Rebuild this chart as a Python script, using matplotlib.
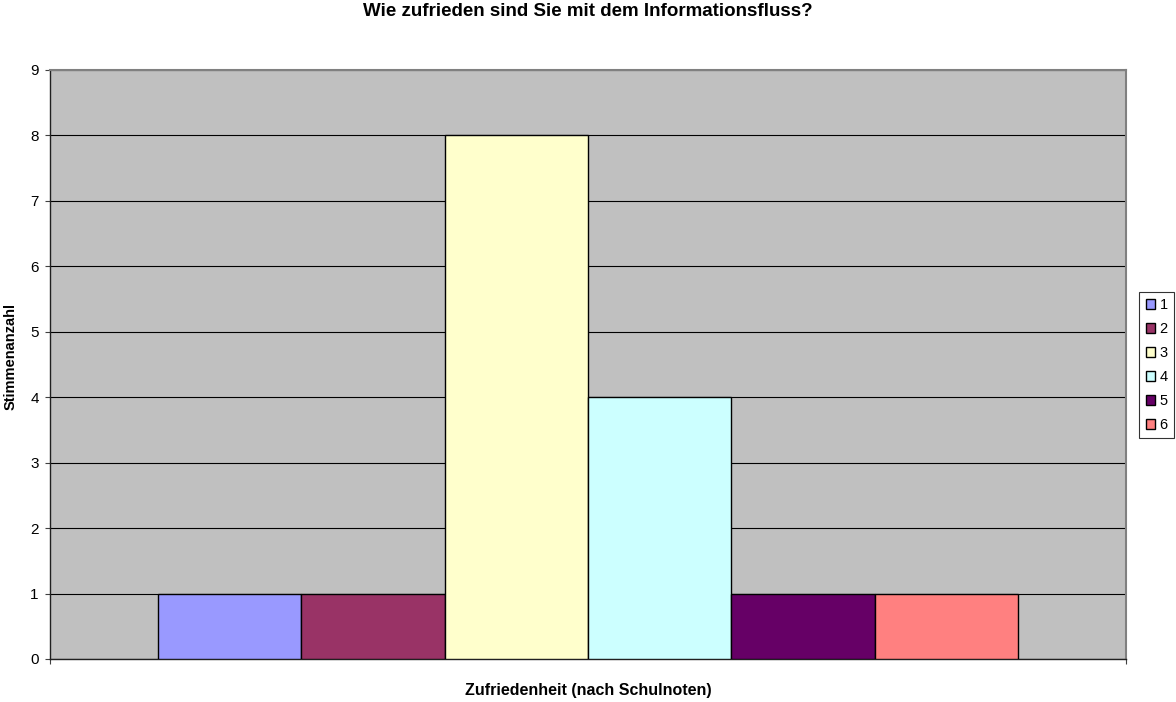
import matplotlib.pyplot as plt
import numpy as np

plt.rcParams['font.family'] = ['Liberation Sans', 'DejaVu Sans']

noten = ['1', '2', '3', '4', '5', '6']
stimmen = [1, 1, 8, 4, 1, 1]
farben = ['#9999FF', '#993366', '#FFFFCC', '#CCFFFF', '#660066', '#FF8080']

fig = plt.figure(figsize=(11.76, 7.02), dpi=100)
ax = fig.add_axes([50/1176, 1 - 659/702, 1076/1176, 589/702])
ax.set_facecolor('#C0C0C0')

w = 0.8 / len(noten)
for i, (n, v, c) in enumerate(zip(noten, stimmen, farben)):
    ax.bar(0.1 + i * w, v, width=w, align='edge', color=c,
           edgecolor='black', linewidth=1.0, label=n, zorder=3)

ax.set_xlim(0, 1)
ax.set_ylim(0, 9)
ax.set_yticks(range(10))
ax.yaxis.grid(True, color='black', linewidth=0.8, zorder=1)
ax.set_axisbelow(True)
ax.set_xticks([0, 1])
ax.set_xticklabels([])
ax.tick_params(axis='x', direction='out', length=3.6, color='#404040')
ax.tick_params(axis='y', direction='out', length=3.6, labelsize=11, pad=4.5, color='#404040')

for s in ['left', 'bottom']:
    ax.spines[s].set_color('#202020')
    ax.spines[s].set_linewidth(1.0)
for s in ['top', 'right']:
    ax.spines[s].set_color('#808080')
    ax.spines[s].set_linewidth(1.5)

fig.text(0.5, 1 - 12/702, 'Wie zufrieden sind Sie mit dem Informationsfluss?',
         ha='center', va='center', fontsize=13.5, fontweight='bold')
fig.text(0.5, 1 - 690/702, 'Zufriedenheit (nach Schulnoten)',
         ha='center', va='center', fontsize=11.5, fontweight='bold')
fig.text(11/1176, 1 - 356/702, 'Stimmenanzahl', rotation=90,
         ha='center', va='center', fontsize=10.5, fontweight='bold')

leg = ax.legend(loc='center left', bbox_to_anchor=(1139/1176, 1 - 365/702),
                bbox_transform=fig.transFigure, frameon=True, fancybox=False,
                fontsize=10.5, handlelength=0.65, handleheight=0.65, handletextpad=0.3,
                labelspacing=0.68, borderpad=0.45, borderaxespad=0)
leg.get_frame().set_edgecolor('black')
leg.get_frame().set_linewidth(0.8)

fig.savefig('out.png', dpi=100)
